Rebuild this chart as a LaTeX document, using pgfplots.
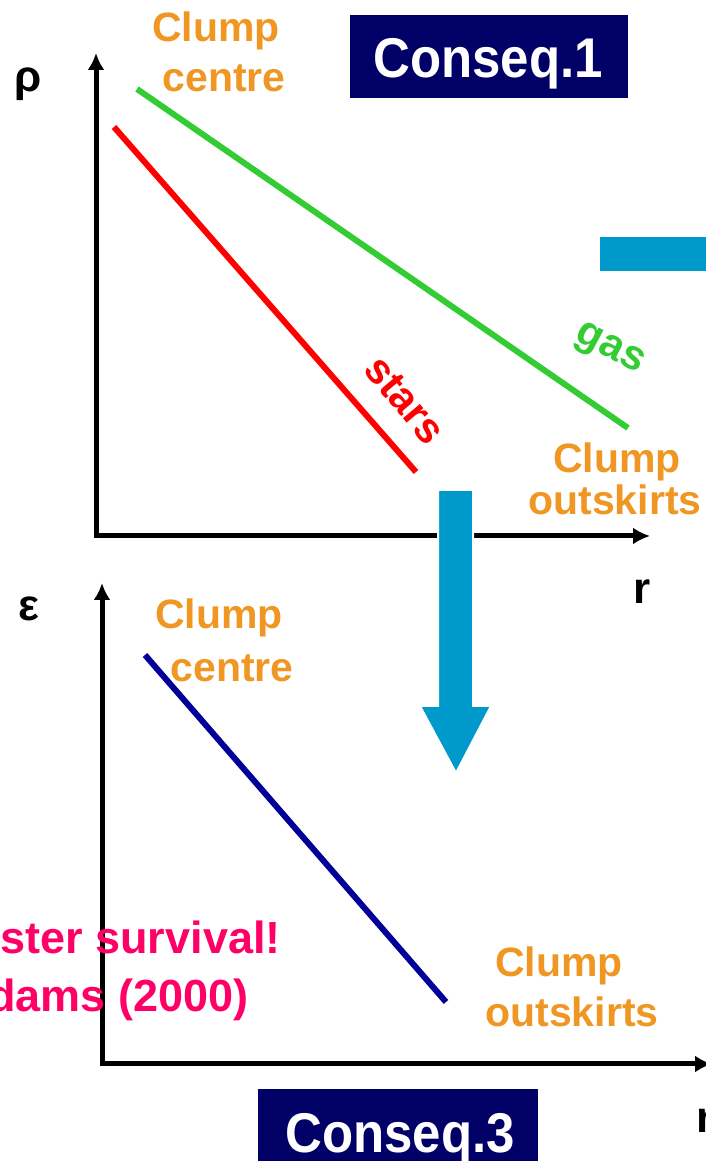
\documentclass[border=0pt]{standalone}
\usepackage{fontspec}
\setmainfont{Liberation Sans}
\usepackage{graphicx}
\usepackage{pgfplots}
\pgfplotsset{compat=1.18}
\usetikzlibrary{arrows.meta}
\definecolor{orng}{RGB}{240,150,35}
\definecolor{navybox}{RGB}{0,0,102}
\definecolor{bline}{RGB}{0,0,153}
\definecolor{gline}{RGB}{51,204,51}
\definecolor{rline}{RGB}{255,0,0}
\definecolor{mag}{RGB}{255,0,102}
\definecolor{arrowblue}{RGB}{0,153,204}
\newcommand{\fs}[1]{\fontsize{#1}{#1}\selectfont\bfseries}
\pgfplotsset{
  slideaxis/.style={
    scale only axis, clip=false,
    axis x line=bottom, axis y line=left,
    xtick=\empty, ytick=\empty,
    axis line style={line width=2.5pt, black, line cap=rect},
    every outer x axis line/.append style={-{Latex[length=8.5pt,width=8.5pt]}},
    every outer y axis line/.append style={-{Latex[length=8.5pt,width=8.5pt]}},
  }
}
\begin{document}
\begin{tikzpicture}
\path[use as bounding box] (0,0) rectangle (353pt,580.5pt);
\clip (0,0) rectangle (353pt,580.5pt);
% top axis: rho vs r
\begin{axis}[slideaxis, at={(48pt,312.5pt)}, anchor=south west,
  width=277pt, height=241.5pt, xmin=96, xmax=650, ymin=625, ymax=1108]
\addplot[gline, line width=3pt, line cap=butt] coordinates {(137,1072) (628,733)};
\addplot[rline, line width=3pt, line cap=butt] coordinates {(114,1034) (416,689)};
\end{axis}
% bottom axis: epsilon vs r
\begin{axis}[slideaxis, at={(51pt,48.5pt)}, anchor=south west,
  width=305pt, height=240.5pt, xmin=102, xmax=712, ymin=97, ymax=578]
\addplot[bline, line width=3pt, line cap=butt] coordinates {(145,506) (446,159)};
\end{axis}
\begin{scope}[x=0.5pt,y=0.5pt]
% boxes
\fill[navybox] (350,1063) rectangle (628,1146);
\node[anchor=base, white, inner sep=0] at (488,1083) {\fs{28}\scalebox{0.91}[1]{Conseq.1}};
\fill[navybox] (258,-5) rectangle (538,72);
\node[anchor=base, white, inner sep=0] at (400,9) {\fs{28}\scalebox{0.91}[1]{Conseq.3}};
% blue bar on right
\fill[arrowblue] (600,890) rectangle (720,924);
% big down arrow
\filldraw[fill=arrowblue, draw=white, line width=1pt]
  (438,671) -- (473,671) -- (473,455) -- (491,455) -- (456,388) -- (420,455) -- (438,455) -- cycle;
% axis symbols
\node[anchor=base, inner sep=0] at (28,1069) {\fs{22}ρ};
\node[anchor=base, inner sep=0] at (29,540) {\fs{22}ε};
\node[anchor=base, inner sep=0] at (642,557) {\fs{22}r};
\node[anchor=base west, inner sep=0] at (696,28) {\fs{22}r};
% top labels
\node[anchor=base, inner sep=0, text=orng] at (216,1119) {\fs{20.5}Clump};
\node[anchor=base, inner sep=0, text=orng] at (224,1069) {\fs{20.5}centre};
\node[anchor=base, inner sep=0, text=orng] at (617,688) {\fs{20.5}Clump};
\node[anchor=base west, inner sep=0, text=orng] at (528,646) {\fs{20.5}outskirts};
\node[rotate=-28, inner sep=0, text=gline] at (609,811) {\fs{21}gas};
\node[rotate=-50, inner sep=0, text=rline] at (405,761) {\fs{21}stars};
% bottom labels
\node[anchor=base, inner sep=0, text=orng] at (219,532) {\fs{20.5}Clump};
\node[anchor=base, inner sep=0, text=orng] at (232,479) {\fs{20.5}centre};
\node[anchor=base, inner sep=0, text=orng] at (559,184) {\fs{20.5}Clump};
\node[anchor=base, inner sep=0, text=orng] at (572,134) {\fs{20.5}outskirts};
\node[anchor=base east, inner sep=0, text=mag] at (281,207) {\fs{22.5}Cluster survival!};
\node[anchor=base east, inner sep=0, text=mag] at (249,149) {\fs{22.5}Adams (2000)};
\end{scope}
\end{tikzpicture}
\end{document}
